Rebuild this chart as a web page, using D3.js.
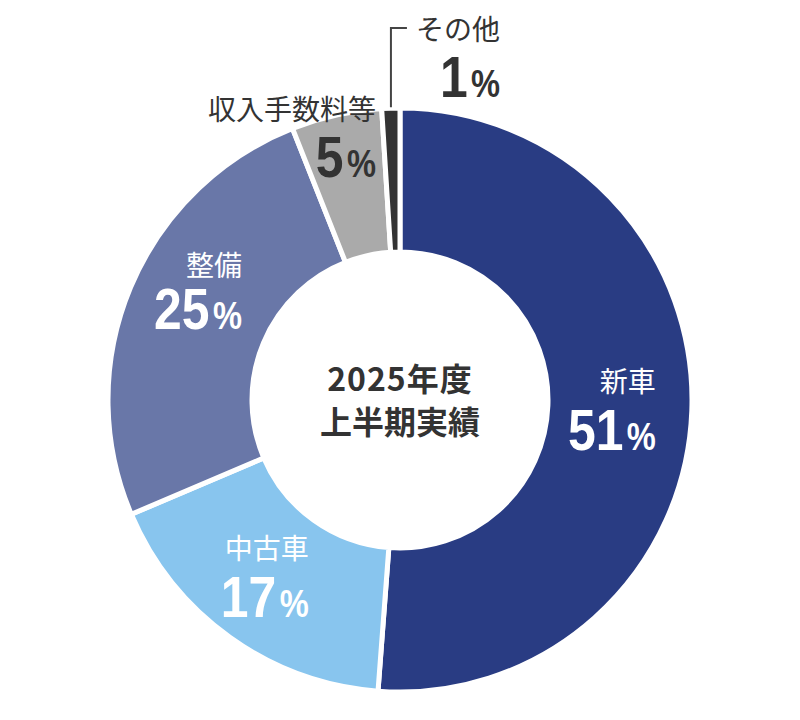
<html>
<head>
<meta charset="utf-8">
<script src="https://d3js.org/d3.v7.min.js"></script>
<style>
  body { margin: 0; background: #fff; }
  .name { font-family: "Noto Sans CJK JP", "Noto Sans", sans-serif; font-size: 28px; }
  .num { font-family: "Liberation Sans", Arial, sans-serif; font-weight: bold; }
  .center { font-family: "Noto Sans CJK JP", sans-serif; font-size: 32px; font-weight: bold; fill: #333; }
</style>
</head>
<body>
<svg id="donut" width="800" height="720"></svg>
<script>
  // data
  const names = ["新車", "中古車", "整備", "収入手数料等", "その他"];
  const values = [51.2, 17.4, 25.4, 5.0, 1.0];
  const pctLabels = ["51", "17", "25", "5", "1"];
  const colors = ["#293c83", "#88c5ee", "#6977a8", "#aaaaaa", "#333333"];
  const textColors = ["#fff", "#fff", "#fff", "#333", "#333"];
  const centerLines = ["2025年度", "上半期実績"];

  // label placement relative to the slice centroid (right aligned)
  const labelOffsets = [
    {dx: 36, dy: 42, gap: 58},
    {dx: 37, dy: 38, gap: 58},
    {dx: 45, dy: 14, gap: 53},
    {dx: 24, dy: -8, gap: 57},
    {dx: 107, dy: -83, gap: 57}
  ];

  const svg = d3.select('svg#donut');
  const cx = 400, cy = 400;
  const outerR = 292, innerR = 148;

  const g = svg.append('g').attr('transform', `translate(${cx},${cy})`);

  const pie = d3.pie().sort(null).value(d => d);
  const arcs = pie(values);
  const arc = d3.arc().innerRadius(innerR).outerRadius(outerR);
  const labelArc = d3.arc().innerRadius(220).outerRadius(220);

  g.selectAll('path.slice')
    .data(arcs)
    .enter().append('path')
      .attr('class', 'slice')
      .attr('d', arc)
      .attr('fill', (d, i) => colors[i])
      .attr('stroke', '#fff')
      .attr('stroke-width', 5);

  // leader line for the small slice
  const last = arcs[arcs.length - 1];
  const mid = (last.startAngle + last.endAngle) / 2;
  const lx = Math.sin(mid) * 289, ly = -Math.cos(mid) * 289;
  g.append('path')
    .attr('d', `M${lx},${ly - 4} V${-372} H${lx + 16}`)
    .attr('fill', 'none')
    .attr('stroke', '#444')
    .attr('stroke-width', 2);

  arcs.forEach((d, i) => {
    const [x, y] = labelArc.centroid(d);
    const o = labelOffsets[i];
    const ax = x + o.dx, ay = y + o.dy;

    g.append('text')
      .attr('class', 'name')
      .attr('x', ax)
      .attr('y', ay - o.gap)
      .attr('text-anchor', 'end')
      .attr('fill', textColors[i])
      .text(names[i]);

    // narrow the bold digits like the condensed face in the original
    const t = g.append('text')
      .attr('class', 'num')
      .attr('transform', `translate(${ax},${ay}) scale(0.86,1)`)
      .attr('text-anchor', 'end')
      .attr('fill', textColors[i]);
    t.append('tspan').attr('font-size', 58).text(pctLabels[i]);
    t.append('tspan').attr('font-size', 38).attr('dx', 4).text('%');
  });

  g.selectAll('text.center')
    .data(centerLines)
    .enter().append('text')
      .attr('class', 'center')
      .attr('text-anchor', 'middle')
      .attr('x', 0)
      .attr('y', (d, i) => -9 + i * 43)
      .attr('letter-spacing', (d, i) => i === 0 ? 1 : 0)
      .text(d => d);
</script>
</body>
</html>
